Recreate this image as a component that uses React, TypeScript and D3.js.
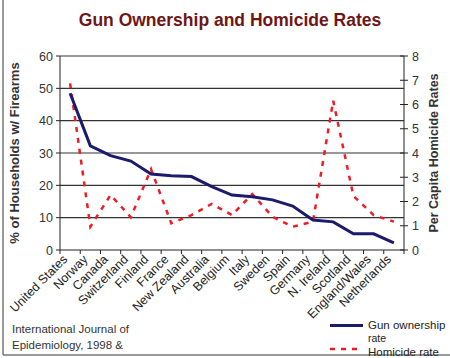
import React from "react";
import * as d3 from "d3";

const countries = ["United States", "Norway", "Canada", "Switzerland", "Finland", "France", "New Zealand", "Australia", "Belgium", "Italy", "Sweden", "Spain", "Germany", "N. Ireland", "Scotland", "England/Wales", "Netherlands"];
const gunOwnership = [48.5, 32.2, 29.2, 27.5, 23.5, 23, 22.7, 19.6, 17, 16.5, 15.5, 13.6, 9.3, 8.7, 5, 5, 2.2];
const homicideRate = [6.87, 0.96, 2.27, 1.35, 3.33, 1.1, 1.44, 1.9, 1.44, 2.31, 1.37, 0.96, 1.17, 6.16, 2.23, 1.44, 1.17];
const leftTicks = [0, 10, 20, 30, 40, 50, 60];
const rightTicks = [0, 1, 2, 3, 4, 5, 6, 7, 8];

const W = 450, H = 358;
const plotL = 60, plotR = 404, plotT = 56, plotB = 250;
const FONT = "'Liberation Sans', Arial, sans-serif";

export default function App() {
  const x = d3.scaleBand<string>().domain(countries).range([plotL, plotR]).padding(0);
  const yL = d3.scaleLinear().domain([0, 60]).range([plotB, plotT]);
  const yR = d3.scaleLinear().domain([0, 8]).range([plotB, plotT]);
  const cx = (c: string) => (x(c) as number) + x.bandwidth() / 2;

  const gunLine = d3.line<number>().x((_, i) => cx(countries[i])).y((d) => yL(d))(gunOwnership) as string;
  const homLine = d3.line<number>().x((_, i) => cx(countries[i])).y((d) => yR(d))(homicideRate) as string;

  const boundaries = countries.map((c) => x(c) as number).concat([plotR]);

  return (
    <svg width={W} height={H} style={{ position: "absolute", left: 0, top: 0, background: "#fff" }} fontFamily={FONT}>
      <rect x={0} y={0} width={W} height={H} fill="#fff" />
      <line x1={3} y1={0} x2={3} y2={355} stroke="#777" strokeWidth={1.5} />
      <line x1={3} y1={355} x2={W} y2={355} stroke="#777" strokeWidth={1.5} />
      <text x={230} y={26} textAnchor="middle" fontSize={17.5} fontWeight="bold" fill="#6e1616">Gun Ownership and Homicide Rates</text>

      {leftTicks.filter((t) => t > 0).map((t) => (
        <line key={"g" + t} x1={plotL} x2={plotR} y1={yL(t)} y2={yL(t)} stroke="#333" strokeWidth={1.2} />
      ))}
      <line x1={plotL} x2={plotL} y1={plotT} y2={plotB} stroke="#222" />
      <line x1={plotR} x2={plotR} y1={plotT} y2={plotB} stroke="#222" />
      <line x1={plotL} x2={plotR} y1={plotB} y2={plotB} stroke="#222" />

      {leftTicks.map((t) => (
        <g key={"l" + t}>
          <line x1={plotL - 4} x2={plotL} y1={yL(t)} y2={yL(t)} stroke="#222" />
          <text x={plotL - 7} y={yL(t) + 4.5} textAnchor="end" fontSize={12.5} fill="#333">{t}</text>
        </g>
      ))}
      {rightTicks.map((t) => (
        <g key={"r" + t}>
          <line x1={plotR - 4} x2={plotR + 4} y1={yR(t)} y2={yR(t)} stroke="#222" />
          <text x={plotR + 8} y={yR(t) + 4.5} textAnchor="start" fontSize={12.5} fill="#333">{t}</text>
        </g>
      ))}
      {boundaries.map((b, i) => (
        <line key={"b" + i} x1={b} x2={b} y1={plotB} y2={plotB + 4} stroke="#222" />
      ))}
      {countries.map((c) => (
        <text key={c} transform={`translate(${cx(c) - 2},${plotB + 10}) rotate(-45)`} textAnchor="end" fontSize={12.5} fill="#222">{c}</text>
      ))}

      <text transform={`translate(19,${(plotT + plotB) / 2}) rotate(-90)`} textAnchor="middle" fontSize={13} fontWeight="bold" fill="#333">% of Households w/ Firearms</text>
      <text transform={`translate(438,${(plotT + plotB) / 2}) rotate(-90)`} textAnchor="middle" fontSize={12.5} fontWeight="bold" fill="#333">Per Capita Homicide Rates</text>

      <path d={homLine} fill="none" stroke="#ee1c25" strokeWidth={2.5} strokeDasharray="5,6" />
      <path d={gunLine} fill="none" stroke="#1b1a6b" strokeWidth={3} />

      <text x={12} y={333} fontSize={11.5} fill="#333">International Journal of</text>
      <text x={12} y={349} fontSize={11.5} fill="#333">Epidemiology, 1998 &amp;</text>

      <line x1={330} x2={363} y1={325.5} y2={325.5} stroke="#1b1a6b" strokeWidth={3} />
      <text x={368} y={329} fontSize={11.5} fill="#222">Gun ownership</text>
      <text x={368} y={341.5} fontSize={10.5} fill="#222">rate</text>
      <line x1={330} x2={363} y1={349} y2={349} stroke="#ee1c25" strokeWidth={2.5} strokeDasharray="5,6" />
      <text x={368} y={355.5} fontSize={11.5} fill="#222">Homicide rate</text>
    </svg>
  );
}
